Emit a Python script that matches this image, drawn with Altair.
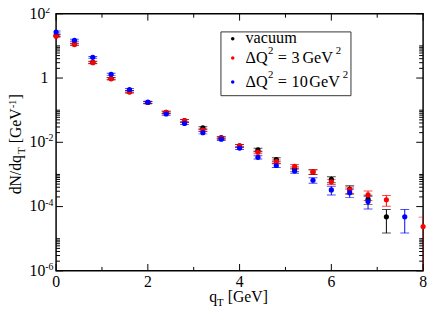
import altair as alt
import pandas as pd

# ---------------- data ----------------
labels = ["vacuum", "ΔQ² = 3 GeV²", "ΔQ² = 10 GeV²"]
legend_dq = ["3", "10"]
colors = ["#000000", "#ff0000", "#0000ff"]

vac_x = [0.0, 0.4, 0.8, 1.2, 1.6, 2.0, 2.4, 2.8, 3.2, 3.6, 4.0, 4.4, 4.8, 5.2, 5.6, 6.0, 6.4, 6.8, 7.2]
vac_y = [21, 11.3, 3.1, 0.96, 0.376, 0.173, 0.086, 0.047, 0.028, 0.014, 0.0078, 0.0058, 0.0029,
         0.00147, 0.00119, 0.0007, 0.000345, 0.00017, 4.8e-5]
vac_e = [1.5, 0.9, 0.25, 0.08, 0.03, 0.014, 0.007, 0.004, 0.0025, 0.0013, 0.0008, 0.0007, 0.0004,
         0.00025, 0.0002, 0.00015, 0.0001, 0.000055, 3.3e-5]

q3_x = [0.0, 0.4, 0.8, 1.2, 1.6, 2.0, 2.4, 2.8, 3.2, 3.6, 4.0, 4.4, 4.8, 5.2, 5.6, 6.0, 6.4, 6.8, 7.2, 8.0]
q3_y = [20, 11, 3.0, 0.95, 0.37, 0.173, 0.085, 0.047, 0.024, 0.0138, 0.0078, 0.0049, 0.0025,
        0.0018, 0.0012, 0.00059, 0.00033, 0.00023, 0.000163, 2.4e-5]
q3_e = [1.4, 0.8, 0.22, 0.07, 0.03, 0.013, 0.007, 0.004, 0.002, 0.0012, 0.0007, 0.0005, 0.0003,
        0.00025, 0.0002, 0.0001, 0.00008, 0.000075, 0.00006, 2.3e-5]

q10_x = [0.0, 0.4, 0.8, 1.2, 1.6, 2.0, 2.4, 2.8, 3.2, 3.6, 4.0, 4.4, 4.8, 5.2, 5.6, 6.0, 6.4, 6.8, 7.6]
q10_y = [27, 15, 4.4, 1.31, 0.44, 0.177, 0.076, 0.0386, 0.020, 0.0125, 0.0066, 0.0034, 0.0019,
         0.00128, 0.00066, 0.00033, 0.00027, 0.000144, 4.8e-5]
q10_e = [2, 1.1, 0.3, 0.1, 0.035, 0.014, 0.006, 0.003, 0.0017, 0.0011, 0.0006, 0.0004, 0.00025,
         0.0002, 0.00013, 0.0001, 0.00008, 0.00006, 3.3e-5]

x_major = [0, 2, 4, 6, 8]
x_minor = [1, 3, 5, 7]
y_major = [1e-6, 1e-4, 1e-2, 1, 100]
y_minor = [k * 10.0 ** n for n in (-6, -4, -2, 0) for k in range(2, 11)]
ylab_vals = [100, 1e-2, 1e-4, 1e-6]
ylab_exp = ["2", "-2", "-4", "-6"]
ylab_shift = [6, 0, 0, -1]

# ---------------- build table ----------------
rows = []
for lab, xs_, ys_, es_ in [(labels[0], vac_x, vac_y, vac_e),
                           (labels[1], q3_x, q3_y, q3_e),
                           (labels[2], q10_x, q10_y, q10_e)]:
    for x, y, e in zip(xs_, ys_, es_):
        rows.append({"series": lab, "qT": x, "v": y, "lo": max(y - e, 1e-6), "hi": y + e})
df = pd.DataFrame(rows)

W, H = 374, 262
FONT = "Liberation Serif"
xs = alt.Scale(domain=[0, 8], nice=False, zero=False)
ys = alt.Scale(type="log", domain=[1e-6, 100], nice=False)
cscale = alt.Scale(domain=labels, range=colors)

base = alt.Chart(df)
X = alt.X("qT:Q", scale=xs, axis=None)
C0 = alt.Color("series:N", scale=cscale, legend=None)

err = base.mark_rule(strokeWidth=1, clip=True).encode(
    x=X, y=alt.Y("lo:Q", scale=ys, axis=None), y2="hi:Q", color=C0)
cap_hi = base.mark_tick(orient="horizontal", size=9, thickness=1, clip=True).encode(
    x=X, y=alt.Y("hi:Q", scale=ys, axis=None), color=C0)
cap_lo = base.mark_tick(orient="horizontal", size=9, thickness=1, clip=True).encode(
    x=X, y=alt.Y("lo:Q", scale=ys, axis=None), color=C0)
pts = base.mark_circle(size=28, opacity=1).encode(
    x=X, y=alt.Y("v:Q", scale=ys, axis=None), color=C0)

# ---------------- frame ticks ----------------
TX = alt.X("t:Q", scale=xs, axis=None)
TY = alt.Y("t:Q", scale=ys, axis=None)


def xt(vals, y1, y2):
    return alt.Chart(pd.DataFrame({"t": vals})).mark_rule(color="black", strokeWidth=1).encode(
        x=TX, y=alt.value(y1), y2=alt.value(y2))


def yt(vals, x1, x2):
    return alt.Chart(pd.DataFrame({"t": vals})).mark_rule(color="black", strokeWidth=1).encode(
        y=TY, x=alt.value(x1), x2=alt.value(x2))


ticks = [xt(x_major, H, H - 7), xt(x_minor, H, H - 4), xt(x_major, 0, 7), xt(x_minor, 0, 4),
         yt(y_major, 0, 7), yt(y_minor, 0, 4), yt(y_major, W - 7, W), yt(y_minor, W - 4, W)]

# ---------------- tick labels ----------------
xlab = alt.Chart(pd.DataFrame({"t": x_major})).mark_text(
    align="center", baseline="top", font=FONT, fontSize=16, color="black").encode(
    x=TX, y=alt.value(H + 3), text=alt.Text("t:Q", format="d"))

dyl = pd.DataFrame({"t": ylab_vals, "e": ylab_exp, "b": ["10"] * 4, "sh": ylab_shift})
ylab10 = alt.Chart(dyl).mark_text(
    align="right", baseline="middle", font=FONT, fontSize=16, color="black").encode(
    y=TY, x=alt.value(-11), text="b:N", yOffset="sh:Q")
ylabexp = alt.Chart(dyl).mark_text(align="left", baseline="middle", font=FONT, fontSize=10,
                                   dy=-4, color="black").encode(
    y=TY, x=alt.value(-11), text="e:N", yOffset="sh:Q")
ylab1 = alt.Chart(pd.DataFrame({"t": [1], "s": ["1"]})).mark_text(
    align="right", baseline="middle", font=FONT, fontSize=16, color="black").encode(
    y=TY, x=alt.value(-8), text="s:N")


# ---------------- free text helper ----------------
def txt(s, x, y, size=16, angle=0, align="left"):
    return alt.Chart(pd.DataFrame({"s": [s]})).mark_text(
        align=align, baseline="alphabetic", font=FONT, fontSize=size, angle=angle,
        color="black").encode(x=alt.value(x), y=alt.value(y), text="s:N")


# axis titles
xtitle = [txt("q", 156, 294), txt("T", 164, 298, 11), txt("[GeV]", 175, 294)]
ytitle = [txt("dN/dq", -36, 184, 16, 270), txt("T", -32, 143, 11, 270),
          txt("[GeV", -36, 132, 16, 270), txt("-1", -41, 96, 10, 270),
          txt("]", -36, 87, 16, 270)]

# ---------------- legend (box, symbols, texts) ----------------
LX0, LX1, LY0, LY1 = 168, 300.5, 18.5, 83.5
box = alt.Chart(pd.DataFrame({"a": [0]})).mark_rect(
    fill="white", stroke="#333333", strokeWidth=1).encode(
    x=alt.value(LX0), x2=alt.value(LX1), y=alt.value(LY0), y2=alt.value(LY1))
row_base = [30, 50.5, 75]
dot_y = [25.5, 45, 69.5]
ldots = alt.Chart(pd.DataFrame({"c": colors, "yy": dot_y})).mark_circle(size=13, opacity=1).encode(
    x=alt.value(180), y=alt.Y("yy:Q", scale=None), color=alt.Color("c:N", scale=None))
LF = 16.5
ltext = [txt(labels[0], 193, row_base[0], LF)]
for i, dq in enumerate(legend_dq):
    yb = row_base[i + 1]
    gx = 251 if len(dq) == 1 else 258
    ltext += [txt("ΔQ", 193, yb, LF), txt("2", 216, yb - 9.5, 11),
              txt("=", 226, yb, LF), txt(dq, 240, yb, LF),
              txt("GeV", gx, yb, LF), txt("2", gx + 34, yb - 9.5, 11)]

chart = alt.layer(err, cap_hi, cap_lo, *ticks, pts, xlab, ylab10, ylabexp, ylab1,
                  *xtitle, *ytitle, box, ldots, *ltext).properties(
    width=W, height=H,
    autosize=alt.AutoSizeParams(type="none"),
    padding={"left": 49, "top": 3, "right": 5, "bottom": 36},
).configure_view(stroke="black", strokeWidth=1.5)

chart.save("out.html", embed_options={"renderer": "svg", "actions": False})
